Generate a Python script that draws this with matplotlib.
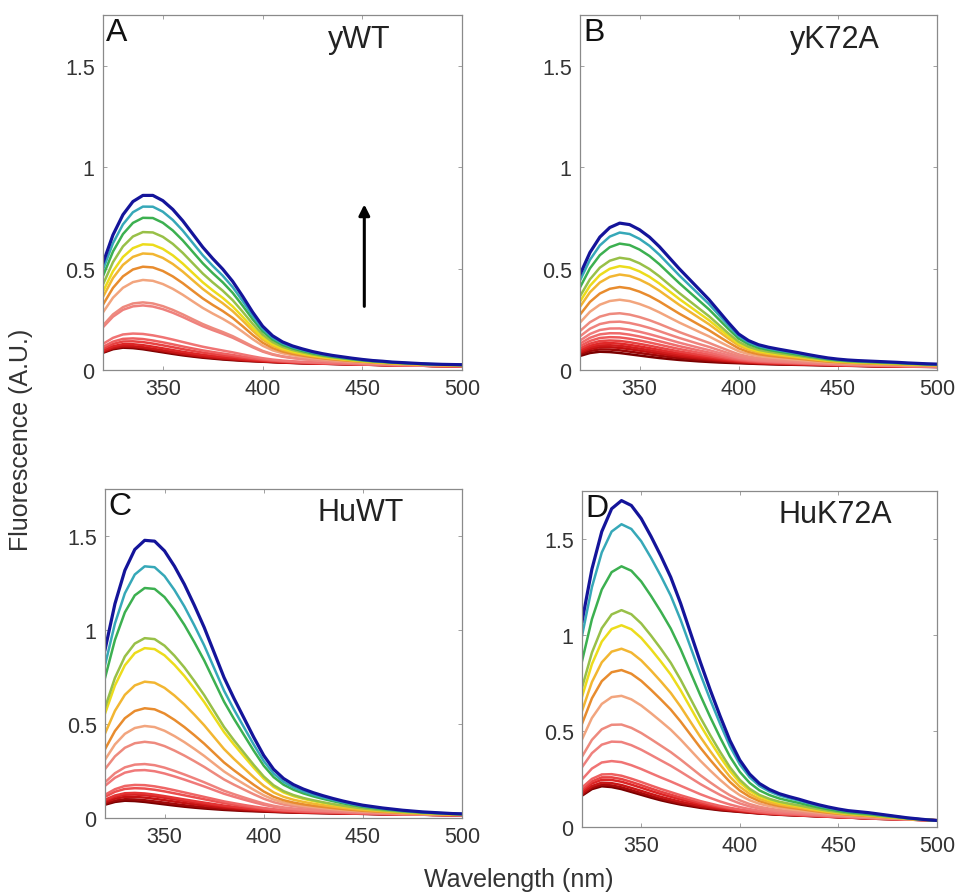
import numpy as np
import matplotlib
matplotlib.use("Agg")
import matplotlib.pyplot as plt
from matplotlib.colors import LinearSegmentedColormap

plt.rcParams["font.family"] = ["Liberation Sans", "DejaVu Sans"]

# emission wavelengths (nm)
WAVELENGTH = np.arange(320, 505, 5)

# normalised shape of the highest spectrum in each panel
A_HIGH = [0.61, 0.77, 0.885, 0.96, 0.995, 0.995, 0.965, 0.915, 0.85, 0.775, 0.70, 0.635, 0.575,
          0.505, 0.42, 0.33, 0.25, 0.195, 0.16, 0.137, 0.12, 0.105, 0.093, 0.083, 0.075,
          0.067, 0.060, 0.054, 0.050, 0.045, 0.042, 0.039, 0.036, 0.034, 0.032, 0.031, 0.030]
B_HIGH = [0.65, 0.80, 0.905, 0.97, 1.0, 0.99, 0.955, 0.905, 0.84, 0.765, 0.69, 0.62, 0.55,
          0.48, 0.40, 0.32, 0.245, 0.20, 0.172, 0.155, 0.142, 0.13, 0.118, 0.105, 0.093,
          0.082, 0.074, 0.068, 0.064, 0.061, 0.058, 0.055, 0.052, 0.048, 0.045, 0.042, 0.040]
C_HIGH = [0.605, 0.77, 0.89, 0.965, 0.998, 0.995, 0.96, 0.905, 0.84, 0.765, 0.685, 0.595, 0.505,
          0.43, 0.36, 0.29, 0.225, 0.175, 0.142, 0.12, 0.104, 0.091, 0.08, 0.07, 0.061,
          0.053, 0.046, 0.041, 0.036, 0.032, 0.028, 0.025, 0.022, 0.020, 0.018, 0.016, 0.015]
D_HIGH = [0.63, 0.79, 0.905, 0.975, 1.0, 0.985, 0.945, 0.89, 0.83, 0.765, 0.685, 0.595, 0.505,
          0.42, 0.34, 0.265, 0.205, 0.162, 0.133, 0.115, 0.102, 0.093, 0.085, 0.076, 0.068,
          0.061, 0.055, 0.050, 0.047, 0.044, 0.040, 0.036, 0.032, 0.028, 0.025, 0.022, 0.020]
# normalised shape of the lowest spectrum (blue-shifted, relatively larger tail)
LOW_SHAPE = [0.77, 0.93, 1.0, 0.98, 0.93, 0.86, 0.79, 0.72, 0.655, 0.60, 0.55, 0.51, 0.47,
             0.44, 0.41, 0.39, 0.37, 0.35, 0.33, 0.315, 0.30, 0.29, 0.28, 0.27, 0.26,
             0.25, 0.24, 0.23, 0.22, 0.21, 0.20, 0.195, 0.19, 0.18, 0.175, 0.17, 0.165]

# peak intensities of each titration spectrum, lowest to highest
A_PEAKS = [0.11, 0.115, 0.12, 0.13, 0.145, 0.16, 0.185, 0.325, 0.34, 0.45, 0.515,
           0.58, 0.625, 0.685, 0.755, 0.81, 0.865]
B_PEAKS = [0.09, 0.103, 0.115, 0.125, 0.136, 0.149, 0.166, 0.186, 0.21, 0.243, 0.284,
           0.35, 0.412, 0.473, 0.514, 0.555, 0.624, 0.678, 0.724]
C_PEAKS = [0.092, 0.101, 0.115, 0.128, 0.137, 0.163, 0.181, 0.261, 0.293, 0.411, 0.495,
           0.589, 0.73, 0.908, 0.961, 1.227, 1.342, 1.48]
D_PEAKS = [0.212, 0.221, 0.233, 0.25, 0.264, 0.281, 0.351, 0.455, 0.545, 0.693, 0.826,
           0.936, 1.057, 1.135, 1.361, 1.578, 1.70]

PANELS = ["A", "B", "C", "D"]
NAMES = ["yWT", "yK72A", "HuWT", "HuK72A"]

TOP_COLORS = ["#f2a57e", "#e88c2e", "#f2b632", "#ecdc1c", "#98c048", "#3cb050",
              "#36a8b8", "#14149a"]
RED_RAMP = LinearSegmentedColormap.from_list(
    "reds", ["#7a0000", "#c01010", "#e02828", "#ee5a5a", "#f07c7c", "#ee8a7e"])

# axes boxes in figure fractions [left, bottom, width, height]
BOXES = [
    [0.1073, 0.5855, 0.3740, 0.3966],
    [0.6042, 0.5855, 0.3718, 0.3966],
    [0.1094, 0.0849, 0.3719, 0.3676],
    [0.6063, 0.0749, 0.3697, 0.3754],
]


def spectra(high, peaks):
    lo, hi = min(peaks), max(peaks)
    bottom = lo * np.asarray(LOW_SHAPE)
    top = hi * np.asarray(high)
    return [bottom + (p - lo) / (hi - lo) * (top - bottom) for p in peaks]


fig = plt.figure(figsize=(9.6, 8.95), dpi=100)
data = [(A_HIGH, A_PEAKS), (B_HIGH, B_PEAKS), (C_HIGH, C_PEAKS), (D_HIGH, D_PEAKS)]

for box, (high, peaks), letter, name in zip(BOXES, data, PANELS, NAMES):
    ax = fig.add_axes(box)
    curves = spectra(high, peaks)
    n_low = len(peaks) - len(TOP_COLORS)
    colors = [RED_RAMP(i / max(n_low - 1, 1)) for i in range(n_low)] + TOP_COLORS
    for i, (y, c) in enumerate(zip(curves, colors)):
        lw = 2.3 if i == len(curves) - 1 else 1.8
        ax.plot(WAVELENGTH, y, color=c, lw=lw, solid_joinstyle="round")
    ax.set_xlim(320, 500)
    ax.set_ylim(0, 1.75)
    ax.set_xticks([350, 400, 450, 500])
    ax.set_yticks([0, 0.5, 1, 1.5])
    ax.set_yticklabels(["0", "0.5", "1", "1.5"])
    ax.tick_params(direction="in", length=3, width=0.6, color="#909090",
                   labelsize=15.5, labelcolor="#333333", top=True, right=True, pad=6)
    for s in ax.spines.values():
        s.set_color("#8a8a8a")
        s.set_linewidth(0.9)
    ax.text(0.008, 0.995, letter, transform=ax.transAxes, ha="left", va="top",
            fontsize=23, color="#111111")
    ax.text(0.715, 0.975, name, transform=ax.transAxes, ha="center", va="top",
            fontsize=22, color="#222222")
    if letter == "A":
        ax.annotate("", xy=(451, 0.83), xytext=(451, 0.30),
                    arrowprops=dict(arrowstyle="-|>", color="black", lw=2.2,
                                    mutation_scale=16))

fig.text(0.022, 0.508, "Fluorescence (A.U.)", rotation=90, ha="center", va="center",
         fontsize=18, color="#333333")
fig.text(0.54, 0.017, "Wavelength (nm)", ha="center", va="center",
         fontsize=18, color="#333333")

fig.savefig("out.png", dpi=100)
